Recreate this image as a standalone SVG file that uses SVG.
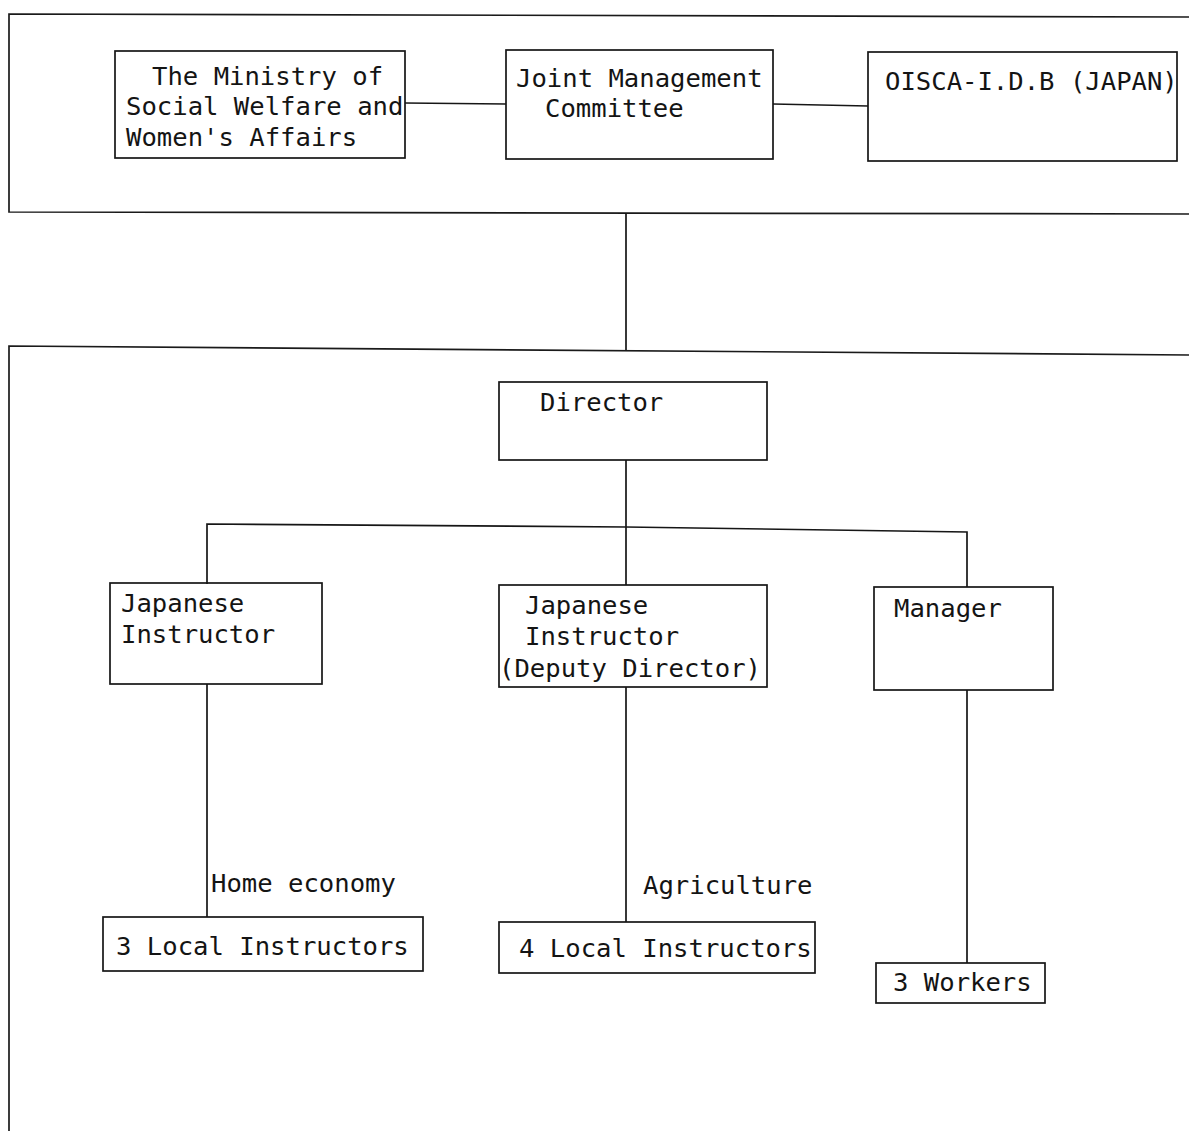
<svg xmlns="http://www.w3.org/2000/svg" width="1189" height="1131" viewBox="0 0 1189 1131">
  <style>
    .box { fill: none; stroke: #161616; stroke-width: 1.7; }
    .ln { fill: none; stroke: #161616; stroke-width: 1.7; }
    .frame { fill: none; stroke: #1a1a1a; stroke-width: 1.7; }
    text { font-family: "DejaVu Sans Mono", "Liberation Mono", monospace; font-size: 25.6px; fill: #141414; }
  </style>
  <rect width="1189" height="1131" fill="#ffffff"/>

  <!-- outer frames of the two tiers -->
  <g id="frames">
    <path class="frame" d="M1189 17 L9 14 L9 212 L1189 214"/>
    <path class="frame" d="M1189 355 L9 346 L9 1131"/>
  </g>

  <!-- connectors -->
  <g id="connectors">
    <line class="ln" x1="405" y1="103" x2="506" y2="104"/>
    <line class="ln" x1="773" y1="104" x2="868" y2="106"/>
    <line class="ln" x1="626" y1="213" x2="626" y2="350"/>
    <line class="ln" x1="626" y1="460" x2="626" y2="585"/>
    <path class="ln" d="M207 584 L207 524 L626 527 L967 532 L967 587"/>
    <line class="ln" x1="207" y1="684" x2="207" y2="917"/>
    <line class="ln" x1="626" y1="687" x2="626" y2="922"/>
    <line class="ln" x1="967" y1="690" x2="967" y2="963"/>
  </g>

  <g id="ministry">
    <rect class="box" x="115" y="51" width="290" height="107"/>
    <text x="152" y="85">The Ministry of</text>
    <text x="126" y="115">Social Welfare and</text>
    <text x="126" y="146">Women's Affairs</text>
  </g>

  <g id="joint-committee">
    <rect class="box" x="506" y="50" width="267" height="109"/>
    <text x="516" y="87">Joint Management</text>
    <text x="545" y="117">Committee</text>
  </g>

  <g id="oisca">
    <rect class="box" x="868" y="52" width="309" height="109"/>
    <text x="885" y="90">OISCA-I.D.B (JAPAN)</text>
  </g>

  <g id="director">
    <rect class="box" x="499" y="382" width="268" height="78"/>
    <text x="540" y="411">Director</text>
  </g>

  <g id="japanese-instructor">
    <rect class="box" x="110" y="583" width="212" height="101"/>
    <text x="121" y="612">Japanese</text>
    <text x="121" y="643">Instructor</text>
  </g>

  <g id="deputy-director">
    <rect class="box" x="499" y="585" width="268" height="102"/>
    <text x="525" y="614">Japanese</text>
    <text x="525" y="645">Instructor</text>
    <text x="499" y="677">(Deputy Director)</text>
  </g>

  <g id="manager">
    <rect class="box" x="874" y="587" width="179" height="103"/>
    <text x="894" y="617">Manager</text>
  </g>

  <g id="home-economy-label">
    <text x="211" y="892">Home economy</text>
  </g>

  <g id="agriculture-label">
    <text x="643" y="894">Agriculture</text>
  </g>

  <g id="local-instructors-3">
    <rect class="box" x="103" y="917" width="320" height="54"/>
    <text x="116" y="955">3 Local Instructors</text>
  </g>

  <g id="local-instructors-4">
    <rect class="box" x="499" y="922" width="316" height="51"/>
    <text x="519" y="957">4 Local Instructors</text>
  </g>

  <g id="workers">
    <rect class="box" x="876" y="963" width="169" height="40"/>
    <text x="893" y="991">3 Workers</text>
  </g>
</svg>
